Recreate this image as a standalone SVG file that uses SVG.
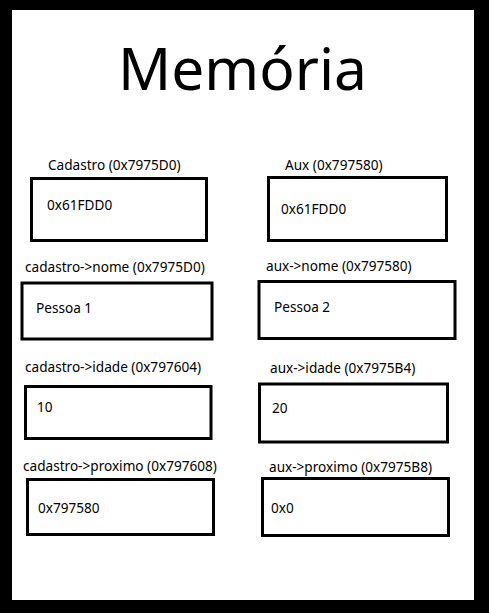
<svg xmlns="http://www.w3.org/2000/svg" width="489" height="613" viewBox="0 0 489 613">
<style>
.box{fill:#fff;stroke:#000;stroke-width:3}
.lbl{font-family:"Noto Sans","Open Sans",sans-serif;font-size:13.6px;fill:#000}
.val{font-family:"Noto Sans","Open Sans",sans-serif;font-size:13.6px;fill:#000}
.title{font-family:"Noto Sans","Open Sans",sans-serif;font-size:58.7px;fill:#000}
</style>
<rect x="0" y="0" width="489" height="613" fill="#000"/>
<rect x="12" y="10" width="462" height="590" fill="#fff"/>
<text class="title" x="118" y="90">Memória</text>
<g id="cadastro">
<text class="lbl" x="48" y="170">Cadastro (0x7975D0)</text>
<rect class="box" x="31.5" y="178.5" width="175" height="62"/>
<text class="val" x="47" y="210">0x61FDD0</text>
</g>
<g id="aux">
<text class="lbl" x="285" y="170">Aux (0x797580)</text>
<rect class="box" x="268.5" y="177.5" width="178" height="63"/>
<text class="val" x="281" y="214">0x61FDD0</text>
</g>
<g id="cadastro-nome">
<text class="lbl" x="25" y="272">cadastro-&gt;nome (0x7975D0)</text>
<rect class="box" x="22" y="283" width="190" height="56"/>
<text class="val" x="36" y="313">Pessoa 1</text>
</g>
<g id="aux-nome">
<text class="lbl" x="266" y="271">aux-&gt;nome (0x797580)</text>
<rect class="box" x="259" y="281.5" width="196" height="57"/>
<text class="val" x="274" y="312">Pessoa 2</text>
</g>
<g id="cadastro-idade">
<text class="lbl" x="25" y="372">cadastro-&gt;idade (0x797604)</text>
<rect class="box" x="25.5" y="386.5" width="185.5" height="52"/>
<text class="val" x="37" y="412">10</text>
</g>
<g id="aux-idade">
<text class="lbl" x="270" y="373">aux-&gt;idade (0x7975B4)</text>
<rect class="box" x="259.5" y="384" width="188" height="58"/>
<text class="val" x="272" y="413">20</text>
</g>
<g id="cadastro-proximo">
<text class="lbl" x="23" y="471">cadastro-&gt;proximo (0x797608)</text>
<rect class="box" x="27.5" y="479.5" width="186" height="55"/>
<text class="val" x="38" y="513">0x797580</text>
</g>
<g id="aux-proximo">
<text class="lbl" x="269" y="472">aux-&gt;proximo (0x7975B8)</text>
<rect class="box" x="262.5" y="478.5" width="186" height="57"/>
<text class="val" x="271" y="513">0x0</text>
</g>
<g id="connectors"/>
</svg>
